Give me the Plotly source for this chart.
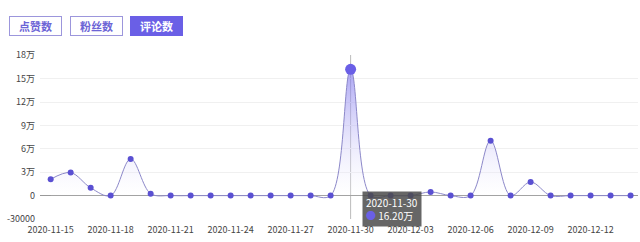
import plotly.graph_objects as go
import pandas as pd

dates = pd.date_range("2020-11-15", "2020-12-14", freq="D")
comments = [21000, 29500, 10000, 0, 47000, 2500, 0, 0, 0, 0,
            0, 0, 0, 0, 0, 162000, 0, 0, 0, 4700,
            0, 0, 70500, 0, 17500, 0, 0, 0, 0, 0]
buttons = ["点赞数", "粉丝数", "评论数"]
active_button = "评论数"
y_ticks = [-30000, 0, 30000, 60000, 90000, 120000, 150000, 180000]
x_tick_dates = dates[::3]
hover_index = 15

def fmt_tick(v):
    if v <= 0:
        return str(v)
    return f"{v // 10000}万"

FONT = "Microsoft YaHei, Noto Sans CJK SC, sans-serif"
PURPLE = "#6a5fe6"

fig = go.Figure()
fig.add_trace(go.Scatter(
    x=dates, y=comments, mode="lines+markers",
    line=dict(color="#8c88c9", width=1, shape="spline", smoothing=1.0),
    marker=dict(color="#5a50d2", size=6),
    fill="tozeroy",
    fillgradient=dict(type="vertical", start=0, stop=max(comments),
                      colorscale=[[0, "rgba(255,255,255,0.2)"], [1, "rgba(125,115,238,0.65)"]]),
    hoverinfo="skip", showlegend=False,
))
fig.add_trace(go.Scatter(
    x=[dates[hover_index]], y=[comments[hover_index]], mode="markers",
    marker=dict(color="#6a5fe6", size=11),
    hoverinfo="skip", showlegend=False,
))

x0 = dates[0] - pd.Timedelta(hours=12.8)
x1 = dates[-1] + pd.Timedelta(hours=8.9)

fig.add_shape(type="line", xref="x", yref="paper",
              x0=dates[hover_index], x1=dates[hover_index], y0=0, y1=1,
              line=dict(color="#bbbbbb", width=1), layer="below")

hv = comments[hover_index]
fig.add_annotation(
    xref="x", yref="y", x=dates[hover_index], y=0,
    xanchor="left", yanchor="top", xshift=11, yshift=5,
    text=f"{dates[hover_index].strftime('%Y-%m-%d')}<br><span style='color:{PURPLE}'>●</span> {hv/10000:.2f}万",
    showarrow=False, align="left",
    font=dict(family=FONT, size=10, color="white"),
    bgcolor="rgba(75,75,75,0.85)", borderpad=3,
)

btn_x = [9, 70, 130]
for name, bx in zip(buttons, btn_x):
    active = name == active_button
    fig.add_annotation(
        xref="paper", yref="paper", x=(bx - 40) / 598, y=(219 - 16) / 164,
        xanchor="left", yanchor="top", showarrow=False,
        text=f"<b>{name}</b>", width=49, height=16,
        font=dict(family=FONT, size=11, color="white" if active else "#6c64d6"),
        bgcolor=PURPLE if active else "white",
        bordercolor=PURPLE if active else "#9c96dc", borderwidth=1, borderpad=1,
    )

fig.update_layout(
    width=640, height=242,
    margin=dict(l=40, r=2, t=55, b=23),
    paper_bgcolor="white", plot_bgcolor="white",
    font=dict(family=FONT, size=9, color="#444"),
    xaxis=dict(range=[x0, x1], tickvals=list(x_tick_dates),
               ticktext=[d.strftime("%Y-%m-%d") for d in x_tick_dates],
               showgrid=False, zeroline=False, showline=False, ticks="",
               ticklabelstandoff=4,
               tickfont=dict(size=9, color="#444")),
    yaxis=dict(range=[-30000, 180400], tickvals=y_ticks,
               ticktext=[fmt_tick(v) for v in y_ticks],
               showgrid=True, gridcolor="#f0f0f0", gridwidth=1,
               zeroline=True, zerolinecolor="#999999", zerolinewidth=1,
               showline=False, ticks="", ticklabelstandoff=4,
               tickfont=dict(size=9, color="#444")),
)

fig.write_html("out.html")
